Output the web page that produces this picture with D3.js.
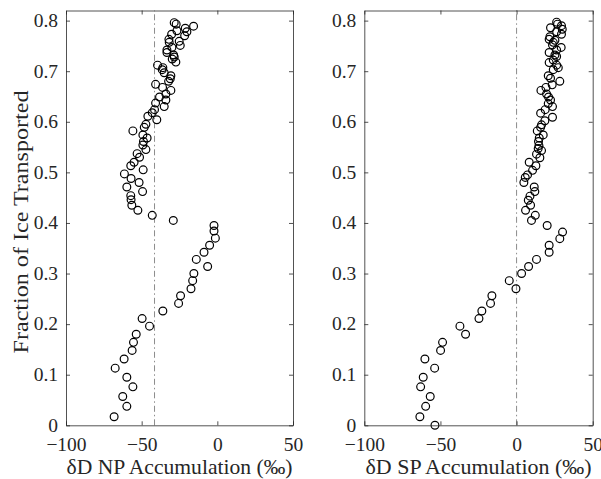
<!DOCTYPE html>
<html>
<head>
<meta charset="utf-8">
<script src="https://cdn.jsdelivr.net/npm/d3@7"></script>
<style>
  body { margin: 0; background: #fff; }
  text { font-family: "Liberation Serif", "DejaVu Serif", serif; fill: #262626; }
</style>
</head>
<body>
<script>
// NP panel
const npX = [-28.5, -27.2, -15.7, -21.2, -26.7, -20.1, -21.6, -30.2, -32, -25.2, -31.8, -24.5, -30, -33.3, -33.3,
  -28.9, -28.5, -29.8, -27.4, -39.5, -36, -36.4, -35.1, -30.7, -31.1, -32.2, -40.8, -36.2, -30.7, -34, -38.2, -34,
  -40.8, -35.1, -41.5, -43, -40, -45.9, -47.2, -48.3, -55.8, -49.2, -46.4, -48.8, -49.2, -47.2, -53, -51.4, -55,
  -57.2, -49, -61.4, -57, -51.7, -59.8, -49.4, -57.2, -57, -56.5, -52.5, -43, -29.1, -2.2, -2.2, -1.3,
  -5.1, -8.8, -13.9, -6.4, -15.5, -16.3, -17.4, -24.3, -25.6, -36, -49.7, -44.8, -53.6, -55.4, -56.3, -61.6,
  -67.5, -59.8, -55.8, -62.5, -59.8, -68.2];
const npY = [0.796, 0.793, 0.789, 0.785, 0.780, 0.778, 0.770, 0.773, 0.763, 0.759, 0.757, 0.751, 0.747, 0.742, 0.737,
  0.732, 0.728, 0.724, 0.718, 0.712, 0.707, 0.703, 0.697, 0.691, 0.685, 0.680, 0.674, 0.668, 0.662, 0.655, 0.649, 0.643,
  0.637, 0.630, 0.624, 0.618, 0.604, 0.611, 0.595, 0.589, 0.582, 0.574, 0.568, 0.561, 0.554, 0.545, 0.537, 0.530, 0.520,
  0.513, 0.505, 0.497, 0.488, 0.480, 0.471, 0.462, 0.454, 0.446, 0.435, 0.425, 0.415, 0.405, 0.395, 0.384, 0.370,
  0.356, 0.342, 0.328, 0.314, 0.300, 0.286, 0.270, 0.256, 0.241, 0.226, 0.211, 0.196, 0.180, 0.164, 0.148, 0.131,
  0.113, 0.095, 0.076, 0.057, 0.0375, 0.017];
const npRef = -41.5;

// SP panel
const spX = [26.3, 26.9, 29.5, 22.3, 30, 26.3, 29.5, 21.9, 21.4, 25.2, 24.1, 23.6, 29.3, 26.3, 21.4, 25.2, 26.3, 24.1,
  21.4, 26.3, 27.4, 24.1, 20.8, 22.3, 28.4, 23.4, 19.3, 16, 19.7, 21, 22.3, 20.8, 23.6, 18.8, 15.8, 23.6, 18.6, 16.4,
  15.8, 13.6, 17.5, 14.9, 14.4, 14.7, 14.2, 16.4, 13.1, 15.3, 8.3, 12.7, 10.5, 7.2, 5.7, 4.8, 11.6, 12, 8.8, 7.7, 9.2,
  5.9, 12.3, 9.8, 20.1, 30.2, 28.4, 21.4, 21.4, 13.1, 7.9, 3.3, -4.8, -0.4, -16.2, -17.1, -22.8, -24.7, -37.2, -33.5,
  -48.6, -49.9, -60.2, -53.8, -61.3, -63, -56.7, -59.7, -63.5, -53.6];
const spY = [0.797, 0.793, 0.790, 0.786, 0.783, 0.778, 0.773, 0.768, 0.763, 0.761, 0.757, 0.752, 0.747, 0.742, 0.737,
  0.732, 0.729, 0.722, 0.717, 0.712, 0.707, 0.703, 0.691, 0.686, 0.680, 0.673, 0.668, 0.662, 0.655, 0.649, 0.643, 0.636,
  0.630, 0.624, 0.617, 0.609, 0.602, 0.594, 0.589, 0.582, 0.574, 0.568, 0.561, 0.553, 0.547, 0.543, 0.536, 0.529, 0.520,
  0.513, 0.504, 0.495, 0.490, 0.480, 0.471, 0.462, 0.453, 0.445, 0.435, 0.425, 0.415, 0.405, 0.395, 0.382, 0.369,
  0.356, 0.342, 0.328, 0.314, 0.300, 0.286, 0.270, 0.256, 0.241, 0.226, 0.211, 0.196, 0.180, 0.164, 0.148, 0.131,
  0.113, 0.095, 0.076, 0.057, 0.0375, 0.017, 0.0];
const spRef = 0;

const xTicks = [-100, -50, 0, 50];
const yTicks = [0, 0.1, 0.2, 0.3, 0.4, 0.5, 0.6, 0.7, 0.8];

const width = 601, height = 479;
const axisColor = '#262626';
const tickLen = 4;

const svg = d3.select("body").append("svg")
  .attr("width", width)
  .attr("height", height);

const y = d3.scaleLinear()
  .domain([0, 0.82])
  .range([425.3, 10.5]);

const drawPanel = (left, right, xs, ys, ref, label, showYLabel) => {
  let x = d3.scaleLinear().domain([-100, 50]).range([left, right]);
  let g = svg.append("g");

  // reference line
  g.append("line")
    .attr("x1", x(ref)).attr("x2", x(ref))
    .attr("y1", y(0)).attr("y2", y(0.82))
    .attr("stroke", "#7f7f7f")
    .attr("stroke-width", 0.9)
    .attr("stroke-dasharray", "6,3,1.5,3");

  // points
  g.append("g")
    .selectAll("circle")
    .data(xs.map((v, i) => [v, ys[i]]))
    .join("circle")
      .attr("cx", d => x(d[0]))
      .attr("cy", d => y(d[1]))
      .attr("r", 3.9)
      .attr("fill", "none")
      .attr("stroke", "#000")
      .attr("stroke-width", 1.2);

  // axes (MATLAB-style box with inward ticks)
  let bottom = g.append("g")
    .attr("transform", `translate(0,${y(0)})`)
    .call(d3.axisBottom(x).tickValues(xTicks).tickFormat(d3.format("d")).tickSize(-tickLen).tickPadding(12).tickSizeOuter(0));
  let top = g.append("g")
    .attr("transform", `translate(0,${y(0.82)})`)
    .call(d3.axisTop(x).tickValues(xTicks).tickFormat("").tickSize(-tickLen).tickSizeOuter(0));
  let leftAx = g.append("g")
    .attr("transform", `translate(${left},0)`)
    .call(d3.axisLeft(y).tickValues(yTicks).tickFormat(d => d === 0 ? "0" : d3.format(".1f")(d)).tickSize(-tickLen).tickPadding(8).tickSizeOuter(0));
  let rightAx = g.append("g")
    .attr("transform", `translate(${right},0)`)
    .call(d3.axisRight(y).tickValues(yTicks).tickFormat("").tickSize(-tickLen).tickSizeOuter(0));

  [bottom, top, leftAx, rightAx].forEach(a => {
    a.selectAll("path, line").attr("stroke", axisColor).attr("stroke-width", 0.8);
    a.selectAll("text").attr("font-size", 19.5).attr("fill", axisColor)
      .style("font-family", '"Liberation Serif", "DejaVu Serif", serif');
  });
  leftAx.selectAll("text").attr("dy", "0.3em");

  g.append("text")
    .attr("x", (left + right) / 2)
    .attr("y", 474)
    .attr("text-anchor", "middle")
    .attr("font-size", 21)
    .attr("textLength", 226)
    .attr("lengthAdjust", "spacingAndGlyphs")
    .text(label);

  if (showYLabel) {
    g.append("text")
      .attr("transform", `translate(28,${y(0.402)}) rotate(-90)`)
      .attr("text-anchor", "middle")
      .attr("font-size", 21)
      .attr("textLength", 263)
      .attr("lengthAdjust", "spacingAndGlyphs")
      .text("Fraction of Ice Transported");
  }
};

drawPanel(66, 293, npX, npY, npRef, "δD NP Accumulation (‰)", true);
drawPanel(364.3, 592.7, spX, spY, spRef, "δD SP Accumulation (‰)", false);
</script>
</body>
</html>
